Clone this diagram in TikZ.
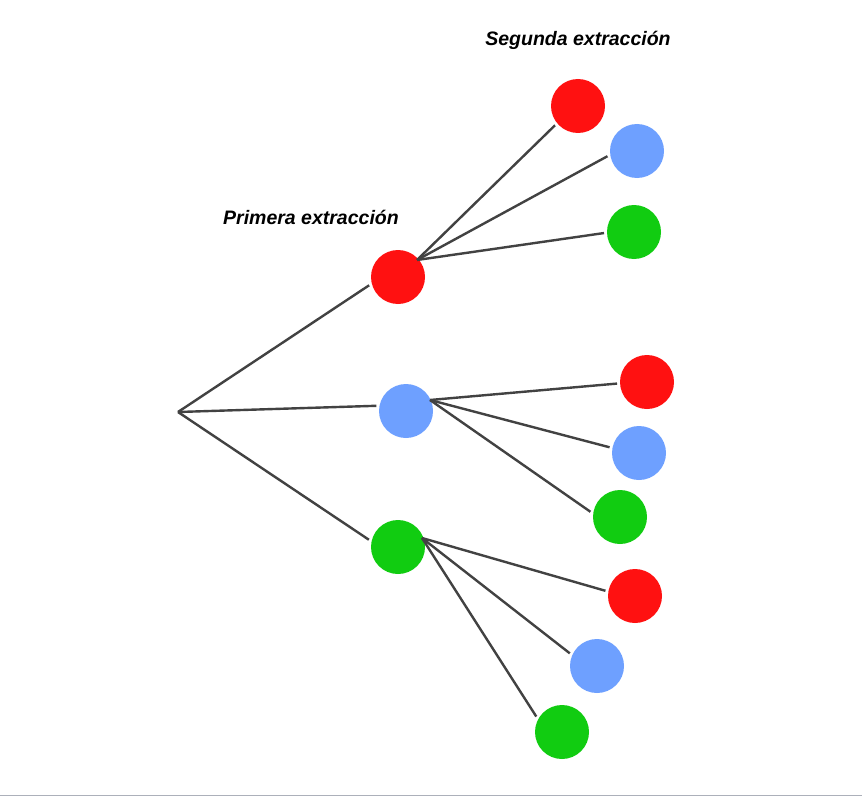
\documentclass[tikz,border=0pt]{standalone}
\usepackage{fontspec}
\setmainfont{Liberation Sans}
\definecolor{cred}{RGB}{255,17,17}
\definecolor{cblue}{RGB}{110,160,255}
\definecolor{cgreen}{RGB}{17,204,17}
\definecolor{cline}{RGB}{66,66,66}
\begin{document}
\begin{tikzpicture}[x=1pt,y=-1pt,
  ball/.style={circle,inner sep=0pt,minimum size=54pt,outer sep=3pt,draw=none},
  rball/.style={ball,fill=cred},
  bball/.style={ball,fill=cblue},
  gball/.style={ball,fill=cgreen},
  edge/.style={draw=cline,line width=2.4pt},
  lbl/.style={font=\bfseries\itshape\fontsize{19.5}{23}\selectfont,inner sep=0pt}]
\useasboundingbox (0,0) rectangle (862,797);
\fill[white] (0,0) rectangle (862,797);
\draw[color={rgb,255:red,172;green,176;blue,186},line width=1.5pt] (0,795.5) -- (862,795.5);

% labels
\node[lbl] (t1) at (311,217) {Primera extracción};
\node[lbl] (t2) at (578,40) {Segunda extracción};

% first level
\coordinate (root) at (178,412);
\node[rball] (R) at (398,277) {};
\node[bball] (B) at (406,411) {};
\node[gball] (G) at (398,547) {};

% second level
\node[rball] (RR) at (578,106) {};
\node[bball] (RB) at (637,151) {};
\node[gball] (RG) at (634,232) {};
\node[rball] (BR) at (647,382) {};
\node[bball] (BB) at (639,453) {};
\node[gball] (BG) at (620,517) {};
\node[rball] (GR) at (635,596) {};
\node[bball] (GB) at (597,666) {};
\node[gball] (GG) at (562,732) {};

% connector origins
\coordinate (Rout) at (417,260);
\coordinate (Bout) at (430,400);
\coordinate (Gout) at (422,538);

\draw[edge] (root) -- (R.196);
\draw[edge] (root) -- (B.170);
\draw[edge] (root) -- (G.166);
\draw[edge] (Rout) -- (RR.220);
\draw[edge] (Rout) -- (RB.190);
\draw[edge] (Rout) -- (RG.182);
\draw[edge] (Bout) -- (BR.183);
\draw[edge] (Bout) -- (BB.169);
\draw[edge] (Bout) -- (BG.170);
\draw[edge] (Gout) -- (GR.170);
\draw[edge] (Gout) -- (GB.155);
\draw[edge] (Gout) -- (GG.149);
\end{tikzpicture}
\end{document}
